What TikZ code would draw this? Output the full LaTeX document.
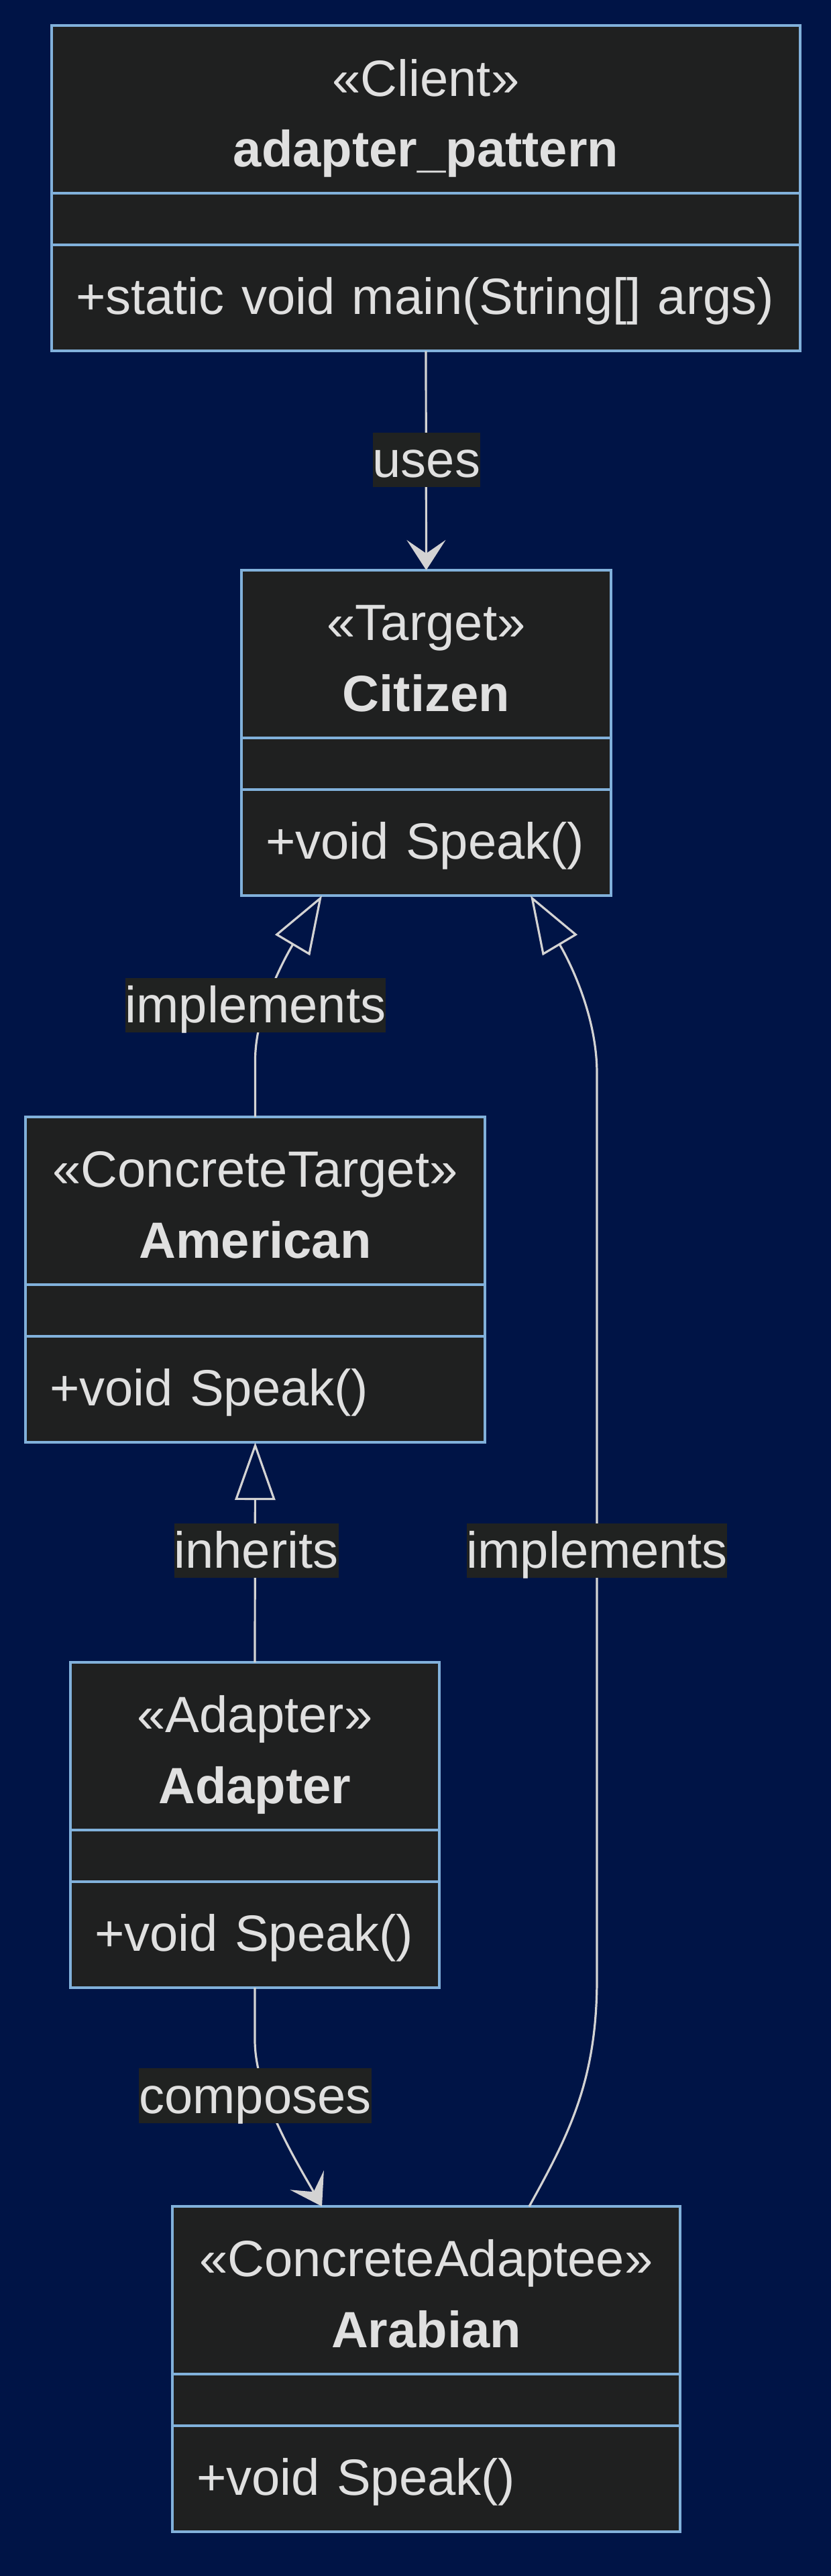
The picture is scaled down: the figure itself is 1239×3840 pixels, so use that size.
\documentclass[tikz,border=0pt]{standalone}
\usepackage{fontspec}
\setmainfont{Liberation Sans}
\usetikzlibrary{arrows.meta,positioning}
\definecolor{pagebg}{RGB}{0,20,70}
\definecolor{umlfill}{HTML}{1F2020}
\definecolor{umlborder}{HTML}{81B1DB}
\definecolor{umltext}{HTML}{E0E0E0}
\definecolor{edgecolor}{HTML}{D3D3D3}
\definecolor{labelbg}{HTML}{202221}

\begin{document}
\begin{tikzpicture}[
    x=0.25pt, y=-0.25pt,
    every node/.style={font=\fontsize{19pt}{23pt}\selectfont, text=umltext},
    umlbox/.style={draw=umlborder, fill=umlfill, line width=1pt, inner sep=0pt, outer sep=0pt},
    umlhead/.style={umlbox, anchor=north, minimum width=#1, minimum height=62.5pt},
    umlattr/.style={umlbox, minimum width=#1, minimum height=19.25pt},
    umlops/.style={umlbox, text width=#1, inner xsep=9pt, minimum height=39.5pt, text height=14pt, text depth=2pt, align=left},
    stereo/.style={anchor=base, inner sep=0pt},
    cname/.style={anchor=base, inner sep=0pt, font=\fontsize{19pt}{23pt}\selectfont\bfseries},
    edgelabel/.style={fill=labelbg, inner sep=0pt, text height=16.7pt, text depth=3.6pt},
    depends/.style={-{Stealth[length=11.25pt, width=14.5pt, inset=5pt]}, draw=edgecolor, line width=0.8pt},
    realize/.style={-{Triangle[open, length=21.5pt, width=15pt]}, draw=edgecolor, line width=0.8pt}
]
\fill[pagebg] (0,0) rectangle (1239,3840);

% classes
\node[umlhead=279pt] (client) at (635,38.5) {};
\node[stereo] (client-stereo) at ([yshift=-26.2pt]client.north) {«Client»};
\node[cname] (client-name) at ([yshift=-52.6pt]client.north) {adapter\_pattern};
\node[umlattr=279pt, below=0pt of client] (client-attr) {};
\node[umlops=261pt, below=0pt of client-attr] (client-ops) {+static void main(String[] args)};

\node[umlhead=137.75pt] (citizen) at (635.5,850) {};
\node[stereo] (citizen-stereo) at ([yshift=-26.2pt]citizen.north) {«Target»};
\node[cname] (citizen-name) at ([yshift=-52.6pt]citizen.north) {Citizen};
\node[umlattr=137.75pt, below=0pt of citizen] (citizen-attr) {};
\node[umlops=119.75pt, below=0pt of citizen-attr] (citizen-ops) {+void Speak()};

\node[umlhead=171.25pt] (american) at (380.5,1665) {};
\node[stereo] (american-stereo) at ([yshift=-26.2pt]american.north) {«ConcreteTarget»};
\node[cname] (american-name) at ([yshift=-52.6pt]american.north) {American};
\node[umlattr=171.25pt, below=0pt of american] (american-attr) {};
\node[umlops=153.25pt, below=0pt of american-attr] (american-ops) {+void Speak()};

\node[umlhead=137.5pt] (adapter) at (380,2478) {};
\node[stereo] (adapter-stereo) at ([yshift=-26.2pt]adapter.north) {«Adapter»};
\node[cname] (adapter-name) at ([yshift=-52.6pt]adapter.north) {Adapter};
\node[umlattr=137.5pt, below=0pt of adapter] (adapter-attr) {};
\node[umlops=119.5pt, below=0pt of adapter-attr] (adapter-ops) {+void Speak()};

\node[umlhead=189.25pt] (arabian) at (635.5,3289) {};
\node[stereo] (arabian-stereo) at ([yshift=-26.2pt]arabian.north) {«ConcreteAdaptee»};
\node[cname] (arabian-name) at ([yshift=-52.6pt]arabian.north) {Arabian};
\node[umlattr=189.25pt, below=0pt of arabian] (arabian-attr) {};
\node[umlops=171.25pt, below=0pt of arabian-attr] (arabian-ops) {+void Speak()};

% relations
\draw[depends] (client-ops.south) -- (citizen.north);
\draw[realize] (american.north) -- ++(0,-85) .. controls +(0,-80) and +(-44,74) .. ([xshift=30pt]citizen-ops.south west);
\draw[realize] (adapter.north) -- (american-ops.south);
\draw[realize] ([xshift=133pt]arabian.north west) .. controls +(60,-108) and +(0,150) .. ++(101,-339) -- ++(0,-1350) .. controls +(0,-100) and +(44,74) .. ([xshift=-30pt]citizen-ops.south east);
\draw[depends] (adapter-ops.south) -- ++(0,78) .. controls +(0,80) and +(-40,-70) .. ([xshift=55.75pt]arabian.north west);

\node[edgelabel] (uses) at (636,685.5) {uses};
\node[edgelabel] (implements-a) at (381,1498.5) {implements};
\node[edgelabel] (inherits) at (382,2311.5) {inherits};
\node[edgelabel] (implements-b) at (890,2311.5) {implements};
\node[edgelabel] (composes) at (380.5,3124) {composes};
\end{tikzpicture}
\end{document}
